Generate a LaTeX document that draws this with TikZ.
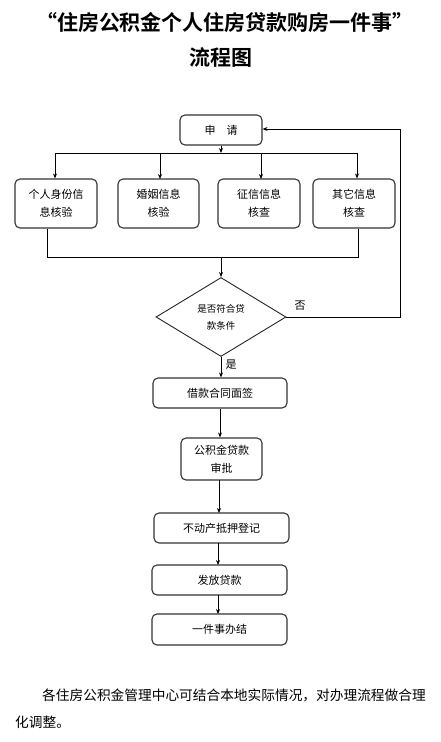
\documentclass[tikz,border=0pt]{standalone}
\usepackage{fontspec}
\setmainfont{Noto Sans CJK SC}
\newfontfamily\cjk{Noto Sans CJK SC}
\newfontfamily\cjkb{Noto Sans CJK SC Bold}
\usetikzlibrary{shapes.geometric,arrows.meta}
\begin{document}
\begin{tikzpicture}[x=1pt,y=-1pt,
  box/.style={draw=black!80,line width=1.1pt,rounded corners=5pt,inner sep=0pt,align=center,font=\cjk\fontsize{11}{18}\selectfont},
  dia/.style={draw=black!85,line width=0.9pt,diamond,aspect=1.65,inner sep=0pt,minimum width=130pt,minimum height=79pt,align=center,font=\cjk\fontsize{9.5}{17}\selectfont},
  conn/.style={draw=black,line width=0.8pt},
  arr/.style={conn,-{Stealth[length=5pt,width=4pt]}},
  lbl/.style={font=\cjk\fontsize{11}{13}\selectfont,inner sep=0pt}]
\useasboundingbox (0,0) rectangle (440,742);
\fill[white] (0,0) rectangle (440,742);
% title
\node[font=\cjkb\fontsize{21}{26}\selectfont,inner sep=0pt] (t1) at (225,22) {“住房公积金个人住房贷款购房一件事”};
\node[font=\cjkb\fontsize{21}{26}\selectfont,inner sep=0pt] (t2) at (221,58) {流程图};
% nodes
\node[box,minimum width=82pt,minimum height=30pt] (req) at (221,130) {申\quad 请};
\node[box,minimum width=82pt,minimum height=49pt] (b1) at (56,203.5) {个人身份信\\息核验};
\node[box,minimum width=81pt,minimum height=49pt] (b2) at (158.5,203.5) {婚姻信息\\核验};
\node[box,minimum width=82pt,minimum height=49pt] (b3) at (259,203.5) {征信信息\\核查};
\node[box,minimum width=82pt,minimum height=49pt] (b4) at (354,203.5) {其它信息\\核查};
\node[dia] (d) at (221,317) {是否符合贷\\款条件};
\node[box,minimum width=134pt,minimum height=30pt] (s1) at (220,393) {借款合同面签};
\node[box,minimum width=81pt,minimum height=42pt] (s2) at (221.5,459) {公积金贷款\\审批};
\node[box,minimum width=135pt,minimum height=30pt] (s3) at (221.5,528) {不动产抵押登记};
\node[box,minimum width=135pt,minimum height=30pt] (s4) at (219.5,580) {发放贷款};
\node[box,minimum width=135pt,minimum height=31pt] (s5) at (219.5,629.5) {一件事办结};
% coordinates
\coordinate (h) at (221,153);
\coordinate (hl) at (55,153);
\coordinate (hr) at (357,153);
\coordinate (m) at (221,257);
\coordinate (ml) at (47,257);
\coordinate (mr) at (358,257);
\coordinate (ft) at (400,129);
% connectors
\draw[arr] (req.south) -- (h);
\draw[conn] (hl) -- (hr);
\draw[arr] (hl) -- (hl |- b1.north);
\draw[arr] (160,153) -- (160,179);
\draw[arr] (261,153) -- (261,179);
\draw[arr] (hr) -- (hr |- b4.north);
\draw[conn] (ml |- b1.south) -- (ml) -- (mr) -- (mr |- b4.south);
\draw[arr] (m) -- (d.north);
\draw[conn] (d.east) -- (d.east -| ft) -- (ft);
\draw[arr] (ft) -- (req.east |- ft);
\draw[arr] (d.south) -- (s1.north -| d.south);
\draw[arr] (s1.south) -- (s2.north -| s1.south);
\draw[arr] (219,480) -- (219,513);
\draw[arr] (218,543) -- (218,565);
\draw[arr] (218,595) -- (218,614);
% labels
\node[lbl] (no) at (300,306) {否};
\node[lbl] (yes) at (231,365) {是};
% footnote
\node[anchor=west,inner sep=0pt,font=\cjk\fontsize{13.7}{16}\selectfont] (f1) at (42,695) {各住房公积金管理中心可结合本地实际情况，对办理流程做合理};
\node[anchor=west,inner sep=0pt,font=\cjk\fontsize{13.7}{16}\selectfont] (f2) at (15,722) {化调整。};
\end{tikzpicture}
\end{document}
